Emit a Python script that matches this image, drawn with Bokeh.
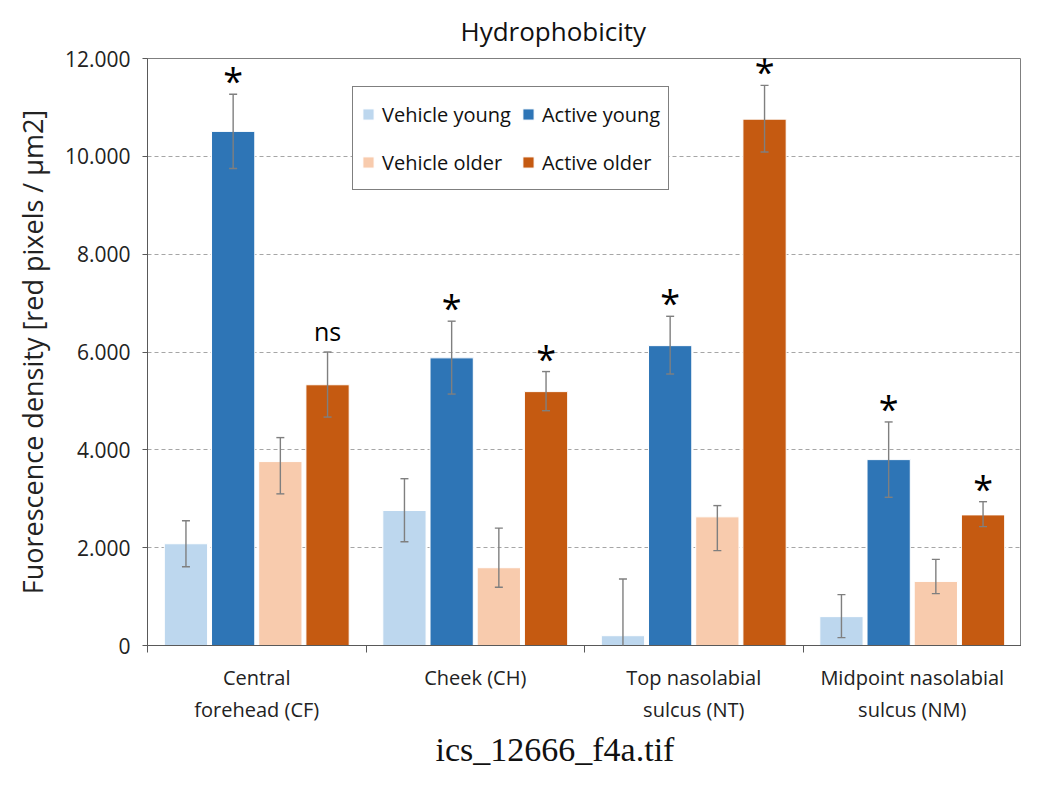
from bokeh.plotting import figure
from bokeh.models import (ColumnDataSource, Whisker, TeeHead, FixedTicker, Legend,
                          LegendItem, Title)
from bokeh.core.properties import value
from bokeh.embed import file_html
from bokeh.resources import INLINE

categories = ["Central\nforehead (CF)", "Cheek (CH)", "Top nasolabial\nsulcus (NT)",
              "Midpoint nasolabial\nsulcus (NM)"]
series = ["Vehicle young", "Active young", "Vehicle older", "Active older"]
colors = ["#BDD7EE", "#2E75B6", "#F8CBAD", "#C55A11"]

# values in thousands of red pixels / µm2
vehicle_young = [2.08, 2.76, 0.20, 0.59]
active_young = [10.51, 5.88, 6.13, 3.80]
vehicle_older = [3.76, 1.59, 2.63, 1.31]
active_older = [5.33, 5.19, 10.76, 2.67]

vehicle_young_hi = [2.55, 3.41, 1.36, 1.04]
vehicle_young_lo = [1.61, 2.12, -0.96, 0.16]
active_young_hi = [11.27, 6.63, 6.73, 4.57]
active_young_lo = [9.75, 5.14, 5.55, 3.03]
vehicle_older_hi = [4.25, 2.40, 2.86, 1.76]
vehicle_older_lo = [3.10, 1.19, 1.94, 1.06]
active_older_hi = [6.00, 5.60, 11.45, 2.94]
active_older_lo = [4.67, 4.80, 10.09, 2.43]

# significance marks per series (same order as categories)
active_young_sig = ["*", "*", "*", "*"]
active_older_sig = ["ns", "*", "*", "*"]

y_ticks = [0, 2, 4, 6, 8, 10, 12]
y_tick_labels = ["0", "2.000", "4.000", "6.000", "8.000", "10.000", "12.000"]

values = [vehicle_young, active_young, vehicle_older, active_older]
his = [vehicle_young_hi, active_young_hi, vehicle_older_hi, active_older_hi]
los = [vehicle_young_lo, active_young_lo, vehicle_older_lo, active_older_lo]
sigs = [None, active_young_sig, None, active_older_sig]

FONT = "Open Sans"
step = 0.216
bar_w = 0.198

p = figure(width=1021, height=771, output_backend="svg", toolbar_location=None,
           x_range=(0, len(categories)), y_range=(0, 12),
           min_border_left=147, min_border_right=0, min_border_top=58,
           min_border_bottom=126)

p.title.text = "Hydrophobicity"
p.title.align = "left"
p.title.offset = 313
p.title.text_font = FONT
p.title.text_font_size = "26px"
p.title.text_font_style = "normal"
p.title.text_color = "#111111"
p.title.standoff = 20

renderers = []
for i, (name, col) in enumerate(zip(series, colors)):
    xs = [j + 0.5 + (i - 1.5) * step for j in range(len(categories))]
    src = ColumnDataSource(dict(x=xs, top=values[i], hi=his[i], lo=los[i]))
    r = p.vbar(x="x", top="top", width=bar_w, bottom=0, source=src,
               fill_color=col, line_color="white", line_width=1)
    renderers.append(r)
    w = Whisker(base="x", upper="hi", lower="lo", source=src, level="overlay",
                line_color="#7F7F7F", line_width=1.4,
                upper_head=TeeHead(size=8, line_color="#7F7F7F", line_width=1.4),
                lower_head=TeeHead(size=8, line_color="#7F7F7F", line_width=1.4))
    p.add_layout(w)
    if sigs[i] is not None:
        ssrc = ColumnDataSource(dict(x=xs, y=his[i], t=sigs[i],
                                     size=["25px" if t == "ns" else "36px" for t in sigs[i]],
                                     yo=[-4 if t == "ns" else 11 for t in sigs[i]]))
        p.text(x="x", y="y", text="t", source=ssrc, text_font=value(FONT),
               text_font_size="size", text_align="center", text_baseline="bottom",
               y_offset="yo", text_color="black")

# legend laid out column-major: column 1 = vehicle, column 2 = active
order = [0, 2, 1, 3]
legend_items = [LegendItem(label=series[k], renderers=[renderers[k]]) for k in order]
legend = Legend(items=legend_items, ncols=2, location=(205, 455),
                label_text_font=FONT, label_text_font_size="20px",
                label_text_color="#111111",
                glyph_width=14, glyph_height=14, label_height=38,
                spacing=10, padding=8, margin=0,
                border_line_color="black", border_line_width=1.5,
                background_fill_alpha=1.0, label_standoff=7)
p.add_layout(legend, "center")

# axes
p.xaxis.ticker = FixedTicker(ticks=[j + 0.5 for j in range(len(categories))],
                             minor_ticks=list(range(len(categories) + 1)))
p.xaxis.major_label_overrides = {j + 0.5: c for j, c in enumerate(categories)}
p.xaxis.major_tick_out = 0
p.xaxis.major_tick_in = 0
p.xaxis.minor_tick_out = 7
p.xaxis.minor_tick_in = 0
p.xaxis.major_label_text_font = FONT
p.xaxis.major_label_text_font_size = "20px"
p.xaxis.major_label_text_color = "#222222"
p.xaxis.major_label_standoff = 11
p.xaxis.axis_line_color = "#595959"
p.xaxis.minor_tick_line_color = "#595959"

p.yaxis.ticker = FixedTicker(ticks=y_ticks, minor_ticks=[])
p.yaxis.major_label_overrides = {t: l for t, l in zip(y_ticks, y_tick_labels)}
p.yaxis.major_label_text_font = FONT
p.yaxis.major_label_text_font_size = "21px"
p.yaxis.major_label_text_color = "#222222"
p.yaxis.major_tick_out = 5
p.yaxis.major_tick_in = 0
p.yaxis.major_label_standoff = 12
p.yaxis.axis_line_color = "#595959"
p.yaxis.major_tick_line_color = "#595959"
p.yaxis.axis_label = "Fuorescence density [red pixels / µm2]"
p.yaxis.axis_label_text_font = FONT
p.yaxis.axis_label_text_font_size = "27px"
p.yaxis.axis_label_text_font_style = "normal"
p.yaxis.axis_label_text_color = "#222222"
p.yaxis.axis_label_standoff = 11

p.xgrid.grid_line_color = None
p.ygrid.ticker = FixedTicker(ticks=y_ticks)
p.ygrid.grid_line_color = "#A6A6A6"
p.ygrid.grid_line_dash = "4 3"
p.ygrid.grid_line_width = 1

p.outline_line_color = "#7F7F7F"
p.outline_line_width = 1

caption = Title(text="ics_12666_f4a.tif", align="left", offset=288,
                text_font="Liberation Serif", text_font_size="34px",
                text_font_style="normal", text_color="#111111", standoff=6)
p.add_layout(caption, "below")

open("out.html", "w").write(file_html(p, INLINE))
